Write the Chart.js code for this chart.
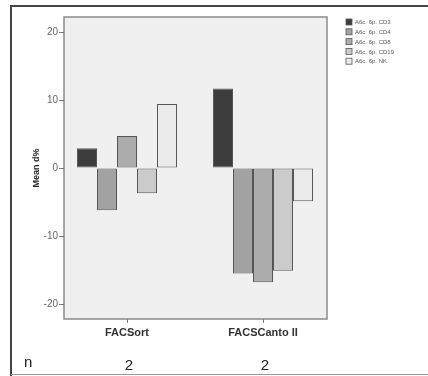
<!DOCTYPE html>
<html>
<head>
<meta charset="utf-8">
<script src="https://cdn.jsdelivr.net/npm/chart.js@4/dist/chart.umd.min.js"></script>
<style>
  html, body { margin: 0; padding: 0; background: #fff; }
  #wrap { width: 428px; height: 376px; position: relative; }
</style>
</head>
<body>
<div id="wrap"><canvas id="chart" width="428" height="376"></canvas></div>
<script>
let categorias = ['FACSort', 'FACSCanto II'];
let nCasos = [2, 2];
let series = ['A6c. 6p. CD3', 'A6c. 6p. CD4', 'A6c. 6p. CD8', 'A6c. 6p. CD19', 'A6c. 6p. NK'];
let valCD3 = [2.9, 11.7];
let valCD4 = [-6.2, -15.5];
let valCD8 = [4.7, -16.8];
let valCD19 = [-3.7, -15.1];
let valNK = [9.4, -4.9];
let ticksY = [-20, -10, 0, 10, 20];

let cores = ['#3c3c3c', '#a2a2a2', '#acacac', '#cbcbcb', '#ebebeb'];
let valores = [valCD3, valCD4, valCD8, valCD19, valNK];

// a moldura do grafico fica um pouco para dentro da area do chart
let margemEsq = 5;
let margemDir = 4;

let moldura = {
    id: 'moldura',
    beforeDraw(c) {
        const ctx = c.ctx;
        const a = c.chartArea;
        ctx.save();
        ctx.fillStyle = '#f0f0f0';
        ctx.fillRect(a.left + margemEsq, a.top, a.right - a.left - margemEsq - margemDir, a.bottom - a.top);
        ctx.restore();
    },
    afterDraw(c) {
        const ctx = c.ctx;
        const a = c.chartArea;
        const esq = a.left + margemEsq;
        const dir = a.right - margemDir;
        ctx.save();
        // borda da area do grafico
        ctx.strokeStyle = '#8a8a8a';
        ctx.lineWidth = 1.5;
        ctx.strokeRect(esq, a.top, dir - esq, a.bottom - a.top);

        // marcas do eixo y
        ctx.strokeStyle = '#777';
        ctx.lineWidth = 1;
        const y = c.scales.y;
        y.ticks.forEach(t => {
            const py = Math.round(y.getPixelForValue(t.value)) + 0.5;
            ctx.beginPath();
            ctx.moveTo(esq - 5, py);
            ctx.lineTo(esq, py);
            ctx.stroke();
        });

        // moldura externa
        ctx.strokeStyle = '#444';
        ctx.lineWidth = 2;
        ctx.beginPath();
        ctx.moveTo(11, 376);
        ctx.lineTo(11, 6);
        ctx.lineTo(428, 6);
        ctx.stroke();
        ctx.strokeStyle = '#999';
        ctx.lineWidth = 1;
        ctx.beginPath();
        ctx.moveTo(11, 374.5);
        ctx.lineTo(428, 374.5);
        ctx.stroke();

        // linha n
        ctx.fillStyle = '#222';
        ctx.font = '15px Arial';
        ctx.textBaseline = 'middle';
        ctx.textAlign = 'left';
        ctx.fillText('n', 24, 363);
        ctx.textAlign = 'center';
        const x = c.scales.x;
        nCasos.forEach((n, i) => {
            ctx.fillText(String(n), x.getPixelForValue(i) + 2, 366);
        });

        // legenda
        ctx.font = '6px Arial';
        ctx.textAlign = 'left';
        c.data.datasets.forEach((ds, i) => {
            const ly = 19 + i * 9.8;
            ctx.fillStyle = ds.backgroundColor;
            ctx.fillRect(346, ly, 6, 6);
            ctx.strokeStyle = '#555';
            ctx.lineWidth = 0.8;
            ctx.strokeRect(346, ly, 6, 6);
            ctx.fillStyle = '#555';
            ctx.fillText(ds.label, 355, ly + 3.5);
        });
        ctx.restore();
    }
};

let ctx = document.getElementById('chart').getContext('2d');
let chart = new Chart(ctx, {
    type: 'bar',
    data: {
        labels: categorias,
        datasets: series.map((s, i) => ({
            label: s,
            data: valores[i],
            backgroundColor: cores[i],
            borderColor: '#555',
            borderWidth: 1,
            borderSkipped: false,
            categoryPercentage: 0.735,
            barPercentage: 1
        }))
    },
    options: {
        responsive: false,
        animation: false,
        layout: { padding: { left: 12, top: 17, right: 97, bottom: 37 } },
        plugins: { legend: { display: false }, tooltip: { enabled: false } },
        scales: {
            x: {
                afterFit(s) { s.height = 20; },
                grid: { drawOnChartArea: false, offset: false, tickLength: 4, tickColor: '#777' },
                border: { display: false },
                ticks: { color: '#333', font: { family: 'Arial', size: 11, weight: 'bold' }, padding: 3 }
            },
            y: {
                min: -22.2,
                max: 22.2,
                afterFit(s) { s.width = 47; },
                afterBuildTicks(s) { s.ticks = ticksY.map(v => ({ value: v })); },
                grid: { drawOnChartArea: false, drawTicks: false, tickLength: 0 },
                border: { display: false },
                ticks: { color: '#666', font: { family: 'Arial', size: 10 }, padding: 1 },
                title: {
                    display: true,
                    text: 'Mean d%',
                    color: '#222',
                    font: { family: 'Arial', size: 9, weight: 'bold' },
                    padding: { top: 19, bottom: 0 }
                }
            }
        }
    },
    plugins: [moldura]
});
</script>
</body>
</html>
